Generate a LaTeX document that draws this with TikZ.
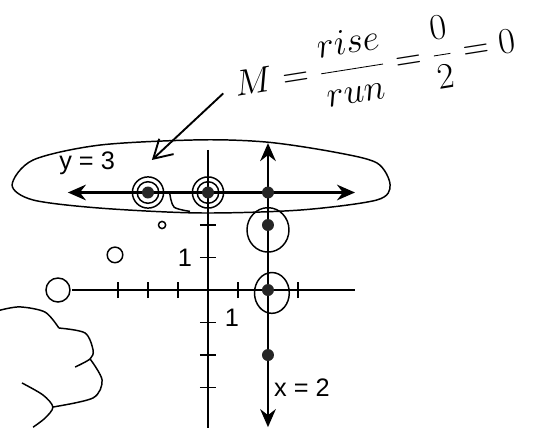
\documentclass[tikz,border=0pt]{standalone}
\usepackage{fontspec}
\setsansfont{Liberation Sans}
\usetikzlibrary{arrows.meta,positioning}
\tikzstyle{gline}=[line width=1.3pt,{Stealth[length=3mm,width=2.6mm,inset=1mm]}-{Stealth[length=3mm,width=2.6mm,inset=1mm]}]
\tikzstyle{axis}=[line width=0.9pt]
\tikzstyle{dot}=[circle,fill=black!85,inner sep=0pt,minimum size=2mm]
\tikzstyle{hand}=[line width=0.7pt]
\tikzstyle{lab}=[font=\sffamily\fontsize{12}{14}\selectfont]

\begin{document}
\begin{tikzpicture}[x=0.5cm,y=0.5417cm]
\useasboundingbox (-6.933,-4.246) rectangle (11.667,8.923);
% axes and ticks
\draw[axis] (-4.53,0) -- (4.9,0);
\draw[axis] (0,4.31) -- (0,-4.25);
\foreach \x in {-3,-2,-1,1,3} \draw[axis] (\x,-0.25) -- (\x,0.25);
\foreach \y in {-3,-2,-1,1,2} \draw[axis] (-0.27,\y) -- (0.27,\y);
\node[lab] (onev) at (-0.77,0.98) {1};
\node[lab] (oneh) at (0.8,-0.86) {1};
% the two lines
\draw[gline] (-4.67,3) -- (4.9,3);
\draw[gline] (2,4.52) -- (2,-4.22);
\node[lab] (ylab) at (-4.03,3.9) {y = 3};
\node[lab] (xlab) at (3.13,-3.0) {x = 2};
% points
\foreach \x/\n in {-2/a,0/b,2/c} \node[dot] (d\n) at (\x,3) {};
\foreach \y/\n in {2/d,0/e,-2/f} \node[dot] (d\n) at (2,\y) {};
\foreach \n in {a,b} {
  \draw[hand] (d\n) circle (0.18cm);
  \draw[hand] (d\n) circle (0.26cm);
}
\draw[hand] (2,1.85) ellipse (0.35cm and 0.37cm);
\draw[hand] (2.13,-0.09) ellipse (0.29cm and 0.34cm);
\draw[hand] (-5,0) circle (0.2cm);
\draw[hand] (-3.1,1.08) circle (0.13cm);
\draw[hand] (-1.53,2.0) circle (0.06cm);
\draw[hand] plot[smooth] coordinates {(-1.27,2.95) (-1.13,2.55) (-0.6,2.42)};
% loop round y = 3
\draw[hand] plot[smooth cycle] coordinates {(-6.53,3.23) (-5.83,4.0) (-3.6,4.46) (-0.27,4.62) (1.97,4.55) (4.17,4.25) (5.63,3.91) (6.07,3.23) (5.63,2.77) (3.07,2.46) (-0.27,2.37) (-3.6,2.52) (-5.83,2.77)};
% slope note
\node[font=\fontsize{18}{22}\selectfont,rotate=9,anchor=west,inner sep=1pt] (slope) at (0.8,6.3) {$M=\displaystyle\frac{rise}{run}=\frac{0}{2}=0$};
\coordinate (loopmark) at (-1.87,4.0);
\draw[line width=0.9pt,-{Straight Barb[length=3mm,width=3.5mm]},shorten <=0.2cm] (slope.west) -- (loopmark);
% cloud
\draw[hand] plot[smooth] coordinates {(-6.93,-0.62) (-6.27,-0.52) (-5.43,-0.68) (-4.97,-1.17)};
\draw[hand] plot[smooth] coordinates {(-4.97,-1.17) (-4.1,-1.32) (-3.83,-1.85) (-3.93,-2.12) (-4.43,-2.37)};
\draw[hand] plot[smooth] coordinates {(-3.93,-2.12) (-3.53,-2.77) (-3.83,-3.32) (-5.17,-3.6)};
\draw[hand] plot[smooth] coordinates {(-6.2,-2.86) (-5.5,-3.23) (-5.17,-3.6) (-5.43,-3.94) (-5.83,-4.22)};
\end{tikzpicture}
\end{document}
